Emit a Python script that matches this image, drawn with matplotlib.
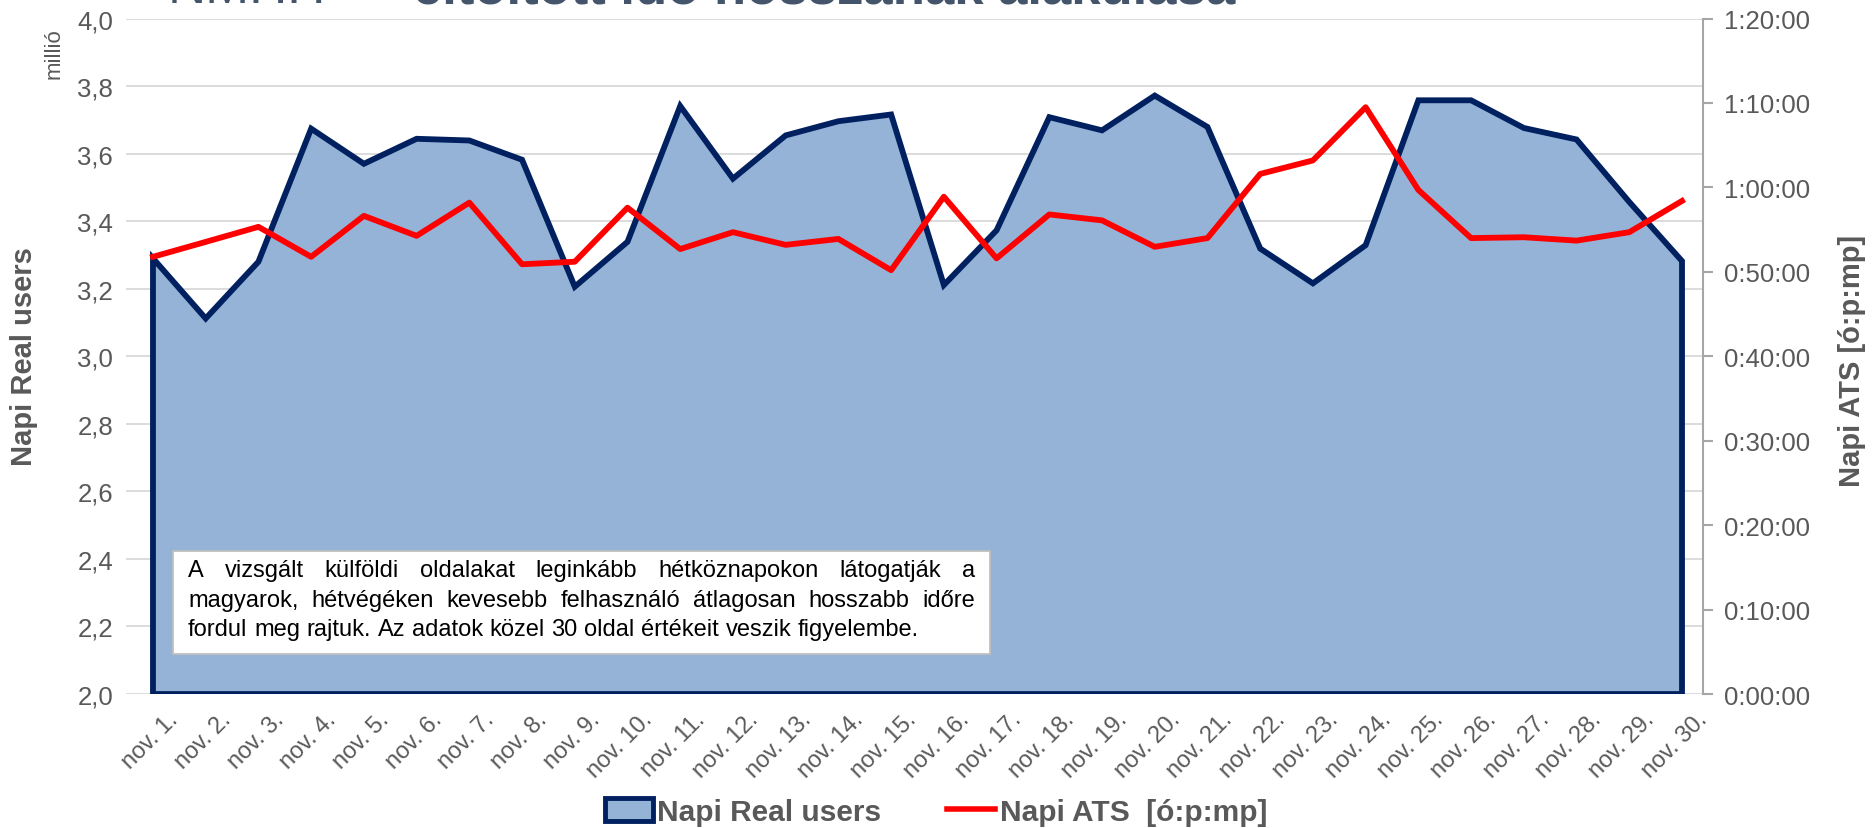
import matplotlib
matplotlib.use('Agg')
import matplotlib.pyplot as plt
from matplotlib import font_manager
from matplotlib.patches import Patch, Rectangle
from matplotlib.lines import Line2D
from matplotlib.ticker import FixedLocator, FuncFormatter
from matplotlib.transforms import ScaledTranslation

# data
days = [f'nov. {d}.' for d in range(1, 31)]
real_users = [3.290, 3.112, 3.280, 3.674, 3.570, 3.644, 3.639, 3.582, 3.206, 3.339,
              3.741, 3.526, 3.654, 3.696, 3.716, 3.211, 3.373, 3.708, 3.669, 3.772,
              3.679, 3.319, 3.216, 3.329, 3.758, 3.758, 3.676, 3.642, 3.457, 3.282]
ats = ['0:51:47', '0:53:33', '0:55:20', '0:51:47', '0:56:38', '0:54:16', '0:58:12',
       '0:50:54', '0:51:12', '0:57:36', '0:52:42', '0:54:42', '0:53:12', '0:53:54',
       '0:50:12', '0:58:54', '0:51:36', '0:56:48', '0:56:06', '0:52:58', '0:54:00',
       '1:01:36', '1:03:12', '1:09:30', '0:59:42', '0:54:00', '0:54:06', '0:53:42',
       '0:54:42', '0:58:24']
note_lines = ['A vizsgált külföldi oldalakat leginkább hétköznapokon látogatják a',
              'magyarok, hétvégéken kevesebb felhasználó átlagosan hosszabb időre',
              'fordul meg rajtuk. Az adatok közel 30 oldal értékeit veszik figyelembe.']


def to_sec(s):
    h, m, sec = (int(p) for p in s.split(':'))
    return h * 3600 + m * 60 + sec


def fmt_time(v, pos=None):
    v = int(round(v))
    return f'{v // 3600}:{(v % 3600) // 60:02d}:{v % 60:02d}'


ats_sec = [to_sec(s) for s in ats]

installed = {f.name for f in font_manager.fontManager.ttflist}
narrow = 'Liberation Sans Narrow' if 'Liberation Sans Narrow' in installed else 'Liberation Sans'
plt.rcParams['font.family'] = ['Liberation Sans', 'DejaVu Sans']

NAVY = '#002060'
FILL = '#95B3D7'
GREY = '#595959'
TITLE = '#44546A'

fig = plt.figure(figsize=(18.74, 8.29), dpi=100)
ax = fig.add_axes([0.067, 0.1616, 0.8418, 0.8148])
x = list(range(len(days)))

ax.fill([0] + x + [x[-1]], [2.0] + real_users + [2.0], facecolor=FILL,
        edgecolor=NAVY, linewidth=4.2, joinstyle='miter', zorder=2)
ax.set_xlim(-0.52, 29.40)
ax.set_ylim(2.0, 4.0)
ax.set_yticks([2.0 + 0.2 * i for i in range(11)])
ax.yaxis.set_major_formatter(FuncFormatter(lambda v, p: f'{v:.1f}'.replace('.', ',')))
ax.grid(axis='y', color='#D9D9D9', linewidth=1.3)
ax.set_axisbelow(True)
for s in ax.spines.values():
    s.set_visible(False)
ax.tick_params(axis='y', length=0, pad=9, labelsize=18.5, labelcolor=GREY)
ax.set_xticks(x)
ax.set_xticklabels(days, rotation=45, ha='right', rotation_mode='anchor')
ax.tick_params(axis='x', length=0, pad=10, labelsize=17, labelcolor=GREY)
shift = ScaledTranslation(14 / 100, 0, fig.dpi_scale_trans)
for lab in ax.get_xticklabels():
    lab.set_transform(lab.get_transform() + shift)

ax2 = ax.twinx()
ax2.plot(x, ats_sec, color='#FF0000', linewidth=4.2, zorder=3)
ax2.set_ylim(0, 4800)
ax2.yaxis.set_major_locator(FixedLocator(range(0, 4801, 600)))
ax2.yaxis.set_major_formatter(FuncFormatter(fmt_time))
for name, s in ax2.spines.items():
    s.set_visible(name == 'right')
ax2.spines['right'].set_color('#A6A6A6')
ax2.spines['right'].set_linewidth(1.5)
ax2.tick_params(axis='y', length=7, width=1.5, color='#A6A6A6', pad=8,
                labelsize=18.5, labelcolor=GREY)

# axis titles
fig.text(0.013, 0.57, 'Napi Real users', rotation=90, ha='center', va='center',
         fontsize=21, fontweight='bold', color=GREY, family=narrow)
fig.text(0.029, 0.935, 'millió', rotation=90, ha='center', va='center',
         fontsize=16, color=GREY, family=narrow)
fig.text(0.988, 0.565, 'Napi ATS [ó:p:mp]', rotation=90, ha='center', va='center',
         fontsize=21, fontweight='bold', color=GREY, family=narrow)

# title, clipped at the top edge
fig.text(0.0896, 0.996, 'NMHH', ha='left', va='baseline', fontsize=38, color=TITLE)
fig.text(0.2206, 0.996, 'eltöltött idő hosszának alakulása', ha='left', va='baseline',
         fontsize=38, fontweight='bold', color=TITLE)

# note box with justified text
bx0, by0, bw, bh = 173, 174, 817, 103
fig.add_artist(Rectangle((bx0 / 1874, by0 / 829), bw / 1874, bh / 829,
                         transform=fig.transFigure, facecolor='white',
                         edgecolor='#BFBFBF', linewidth=1.3, zorder=5))
fig.canvas.draw()
renderer = fig.canvas.get_renderer()
fs = 17
tx0, tx1 = 188, 975
line_y = [258, 228, 199]
for i, line in enumerate(note_lines):
    words = line.split(' ')
    widths = []
    for w in words:
        t = fig.text(0, 0, w, fontsize=fs)
        widths.append(t.get_window_extent(renderer).width)
        t.remove()
    if i < len(note_lines) - 1:
        gap = (tx1 - tx0 - sum(widths)) / (len(words) - 1)
    else:
        sp = fig.text(0, 0, 'a a', fontsize=fs)
        gap = sp.get_window_extent(renderer).width
        sp.remove()
        a = fig.text(0, 0, 'a', fontsize=fs)
        gap -= 2 * a.get_window_extent(renderer).width
        a.remove()
    xp = tx0
    for w, wd in zip(words, widths):
        fig.text(xp / 1874, line_y[i] / 829, w, fontsize=fs, color='black',
                 ha='left', va='center', zorder=6)
        xp += wd + gap

handles = [Patch(facecolor=FILL, edgecolor=NAVY, linewidth=3.5),
           Line2D([], [], color='#FF0000', linewidth=4)]
fig.legend(handles, ['Napi Real users', 'Napi ATS  [ó:p:mp]'], loc='center',
           bbox_to_anchor=(0.4995, 0.019), ncol=2, frameon=False,
           prop={'family': narrow, 'weight': 'bold', 'size': 21.5},
           labelcolor=GREY, handlelength=1.6, handleheight=0.8,
           handletextpad=0.15, columnspacing=2.2)

fig.savefig('out.png', dpi=100)
